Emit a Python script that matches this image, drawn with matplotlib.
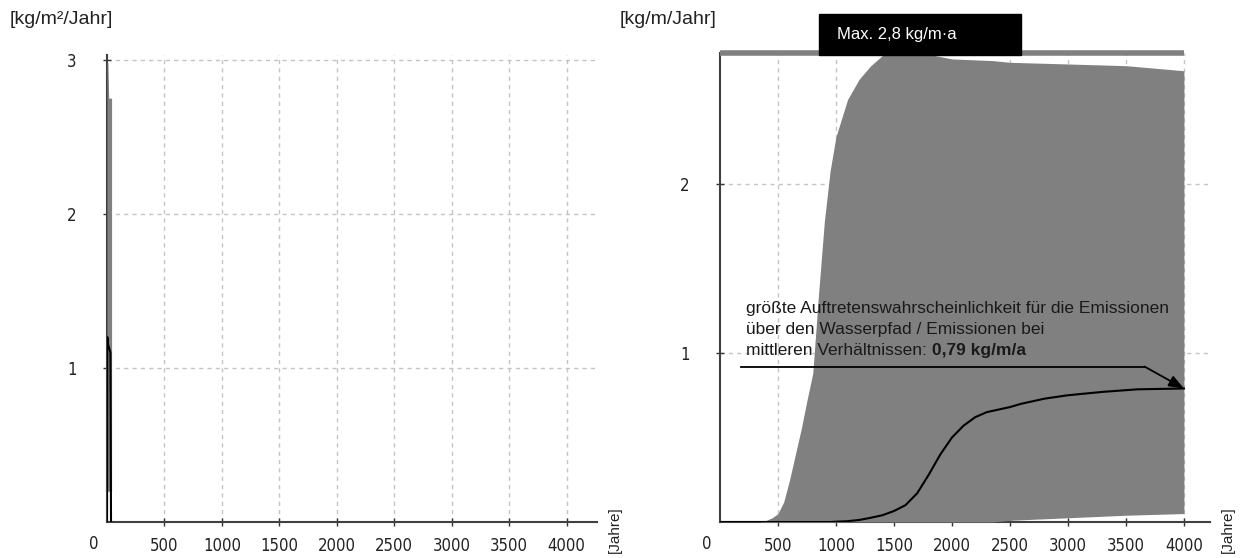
import matplotlib
matplotlib.use("Agg")
import matplotlib.pyplot as plt
from matplotlib.patches import Rectangle

# left panel: narrow spike near year 0  [kg/m2/Jahr]
left_years = [0, 8, 15, 40]
left_upper = [2.98, 2.98, 2.75, 2.75]
left_lower = [0.2, 0.2, 0.2, 0.2]
left_med_years = [0, 3, 10, 30, 35]
left_median = [0, 1.2, 1.15, 1.1, 0]

# right panel: band + most probable emission  [kg/m/Jahr]
band_years = [340, 400, 450, 500, 550, 600, 650, 700, 750, 800, 850, 900, 950,
              1000, 1100, 1200, 1300, 1400, 1500, 1700, 2000, 2350, 2500, 3000,
              3500, 4000]
band_upper = [0, 0.01, 0.025, 0.05, 0.12, 0.25, 0.4, 0.55, 0.72, 0.88, 1.35,
              1.78, 2.08, 2.28, 2.5, 2.62, 2.7, 2.76, 2.78, 2.78, 2.74, 2.73,
              2.72, 2.71, 2.70, 2.67]
band_lower = [0, 0, 0, 0, 0, 0, 0, 0, 0, 0, 0, 0, 0, 0, 0, 0, 0, 0, 0, 0, 0, 0,
              0.01, 0.025, 0.04, 0.05]
med_years = [0, 950, 1100, 1200, 1300, 1400, 1500, 1600, 1700, 1800, 1900, 2000,
             2100, 2200, 2300, 2400, 2500, 2600, 2800, 3000, 3300, 3600, 4000]
median = [0, 0, 0.005, 0.012, 0.025, 0.04, 0.065, 0.1, 0.17, 0.28, 0.4, 0.5,
          0.57, 0.62, 0.65, 0.665, 0.68, 0.70, 0.73, 0.75, 0.77, 0.785, 0.79]

x_ticks = [500, 1000, 1500, 2000, 2500, 3000, 3500, 4000]
max_text = "Max. 2,8 kg/m\u00b7a"
note_lines = ["gr\u00f6\u00dfte Auftretenswahrscheinlichkeit f\u00fcr die Emissionen",
              "\u00fcber den Wasserpfad / Emissionen bei",
              "mittleren Verh\u00e4ltnissen: "]
note_value = "0,79 kg/m/a"

GRAY = "#808080"
W, H = 1240, 558
tickfont = dict(family="DejaVu Sans", stretch="condensed", size=12, color="#222222")
labfont = dict(family="Liberation Sans", size=14, color="#222222")

fig = plt.figure(figsize=(W / 100, H / 100), dpi=100)


def style(ax, yticks):
    for s in ("top", "right"):
        ax.spines[s].set_visible(False)
    for s in ("left", "bottom"):
        ax.spines[s].set_color("#404040")
        ax.spines[s].set_linewidth(1.5)
    ax.set_xticks(x_ticks)
    ax.set_yticks(yticks)
    ax.tick_params(direction="inout", length=6, width=1, color="#333333")
    ax.tick_params(axis="y", pad=19)
    ax.tick_params(axis="x", pad=8)
    for lab in ax.get_xticklabels() + ax.get_yticklabels():
        lab.set_fontfamily(tickfont["family"])
        lab.set_fontstretch(tickfont["stretch"])
        lab.set_fontsize(tickfont["size"])
        lab.set_color(tickfont["color"])
    ax.grid(True, linestyle=(0, (3, 3)), color="#c4c4c4", linewidth=1)
    ax.set_axisbelow(True)
    # the "0" sits a bit left of the origin
    ax.annotate("0", xy=(0, 0), xycoords=("data", "axes fraction"),
                xytext=(-13, -22), textcoords="offset pixels",
                ha="center", va="center", **tickfont)


# ---- left panel
ax1 = fig.add_axes([107 / W, 1 - 522 / H, 490 / W, 467 / H])
ax1.set_xlim(0, 4265)
ax1.set_ylim(0, 3.03)
style(ax1, [1, 2, 3])
ax1.fill_between(left_years, left_lower, left_upper, color=GRAY, lw=0, zorder=3)
ax1.plot(left_med_years, left_median, color="black", lw=1.5, zorder=4)
fig.text(10 / W, 1 - 20 / H, "[kg/m\u00b2/Jahr]", ha="left", va="center", **labfont)
fig.text(615 / W, 1 - 530 / H, "[Jahre]", rotation=90, ha="center", va="center",
         family="Liberation Sans", size=11, color="#222222")

# ---- right panel
ax2 = fig.add_axes([720 / W, 1 - 522 / H, 490 / W, 469 / H])
ax2.set_xlim(0, 4225)
ax2.set_ylim(0, 2.775)
style(ax2, [1, 2])
ax2.fill_between(band_years, band_lower, band_upper, color=GRAY, lw=0, zorder=3)
ax2.plot(med_years, median, color="black", lw=1.5, zorder=4)
# thick gray cap at the top of the value range
ax2.plot([0, band_years[-1]], [2.775, 2.775], color=GRAY, lw=4,
         solid_capstyle="butt", clip_on=False, zorder=5)
fig.text(620 / W, 1 - 20 / H, "[kg/m/Jahr]", ha="left", va="center", **labfont)
fig.text(1228 / W, 1 - 530 / H, "[Jahre]", rotation=90, ha="center", va="center",
         family="Liberation Sans", size=11, color="#222222")

# max box
fig.patches.append(Rectangle((819 / W, 1 - 55 / H), 202 / W, 41 / H,
                             transform=fig.transFigure, color="black", zorder=6))
fig.text(837 / W, 1 - 35 / H, max_text, color="white", ha="left", va="center",
         family="Liberation Sans", size=12, zorder=7)

# annotation
note_y = [1.265, 1.14, 1.013]
nf = dict(family="Liberation Sans", size=12.5, color="#1a1a1a", zorder=6)
for line, yy in zip(note_lines, note_y):
    t = ax2.text(224, yy, line, ha="left", va="center", **nf)
ax2.annotate(note_value, xy=(1, 0.5), xycoords=t, ha="left", va="center",
             fontweight="bold", **nf)
ax2.plot([180, 3660], [0.92, 0.92], color="black", lw=1.3, zorder=6)
ax2.annotate("", xy=(med_years[-1], median[-1]), xytext=(3660, 0.92),
             arrowprops=dict(arrowstyle="-|>,head_length=0.9,head_width=0.35",
                             color="black", lw=1.3, shrinkA=0, shrinkB=0),
             zorder=6)

fig.savefig("out.png", dpi=100)
